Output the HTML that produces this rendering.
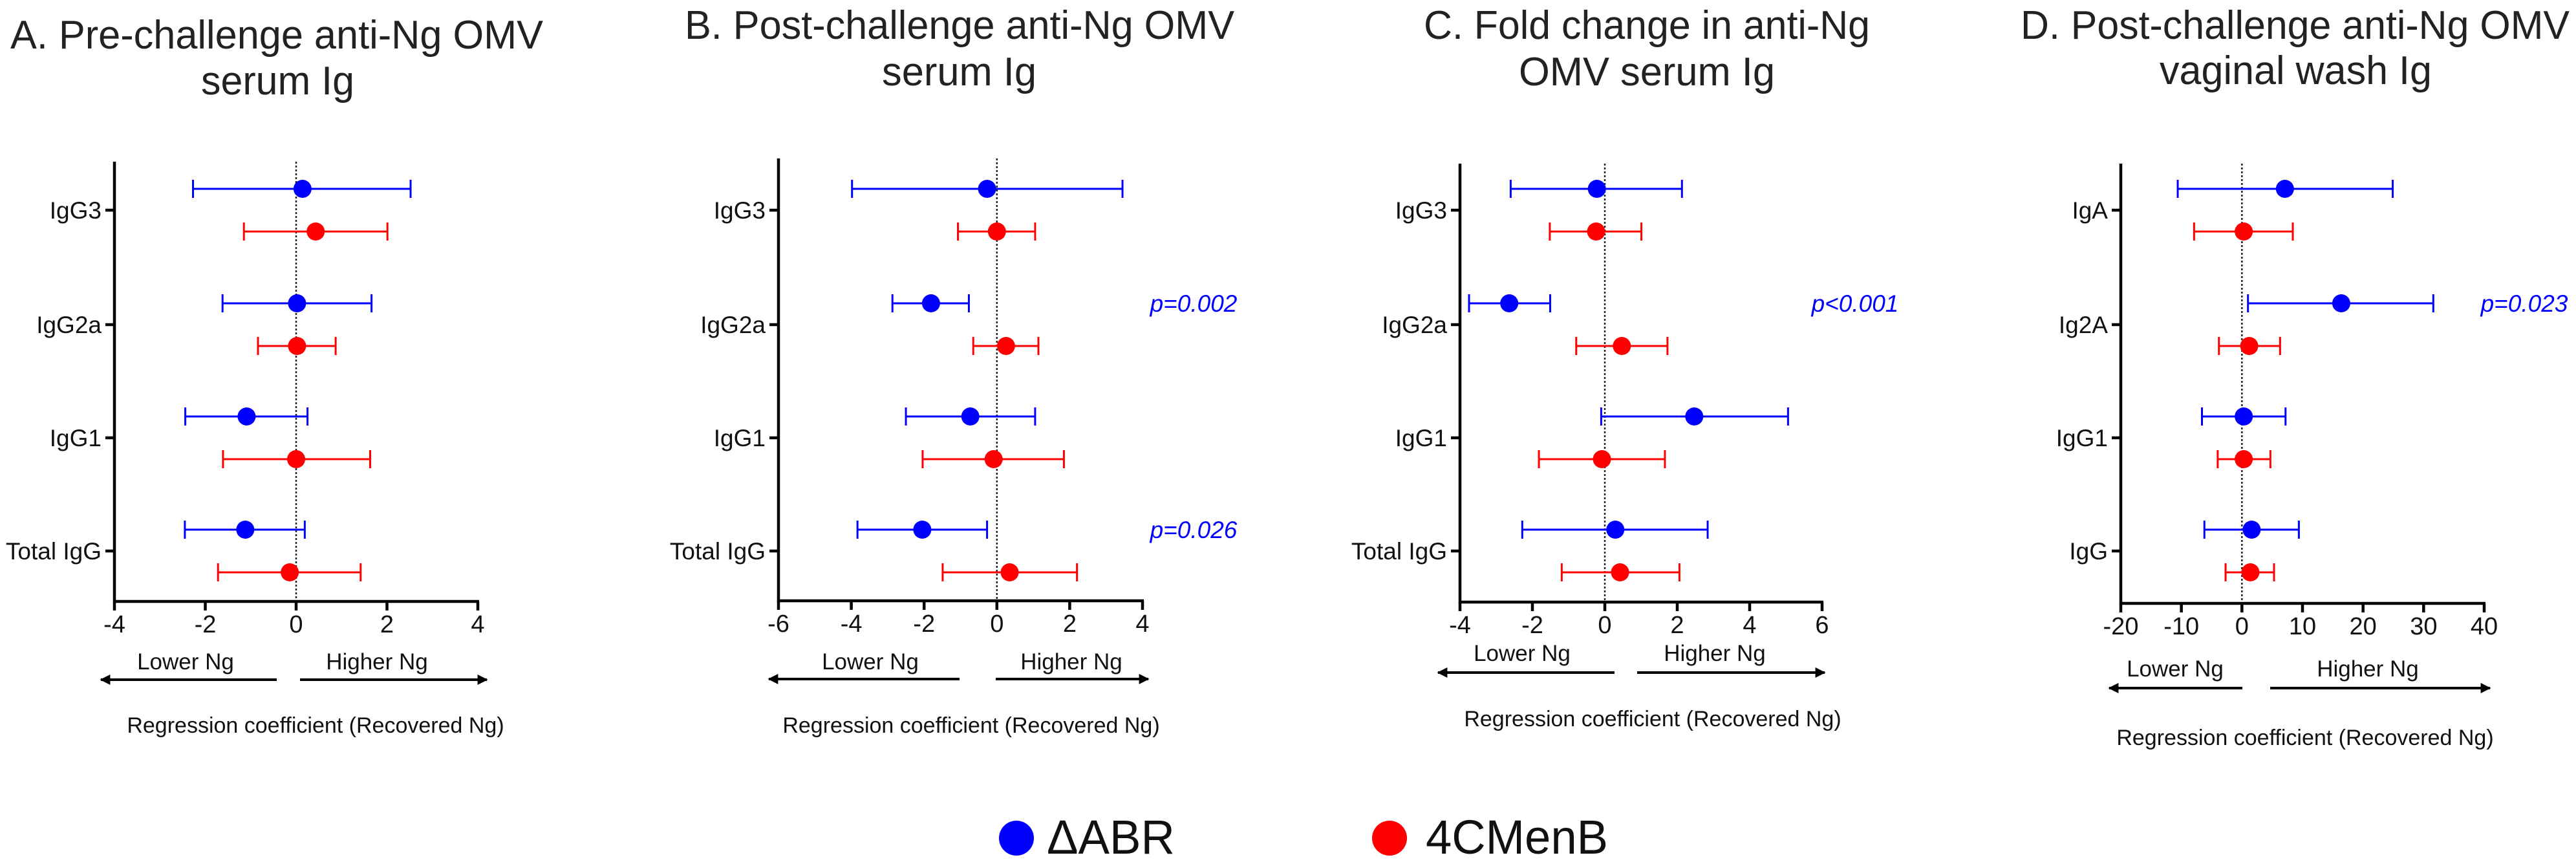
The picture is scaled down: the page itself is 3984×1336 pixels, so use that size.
<!DOCTYPE html>
<html><head><meta charset="utf-8"><style>
html,body{margin:0;padding:0;background:#fff}
svg{display:block}
text{font-family:"Liberation Sans",Arial,sans-serif}
</style></head><body>
<svg id="fig" width="3984" height="1336" viewBox="0 0 3984 1336" xmlns="http://www.w3.org/2000/svg">
<defs>
<marker id="ah" viewBox="0 0 10 10" refX="9" refY="5" markerWidth="4" markerHeight="4" orient="auto-start-reverse"><path d="M0,0 L10,5 L0,10 z" fill="#000"/></marker>
</defs>
<g>
<ellipse cx="1572" cy="1296" rx="27" ry="27" fill="#0000ff"/>
<text x="1619" y="1320" font-size="74" textLength="198" lengthAdjust="spacingAndGlyphs" fill="#111">ΔABR</text>
<ellipse cx="2149" cy="1296" rx="27" ry="27" fill="#ff0000"/>
<text x="2205" y="1320" font-size="74" textLength="282" lengthAdjust="spacingAndGlyphs" fill="#111">4CMenB</text>
</g>
</svg>
<script>
// ---- Panel A data ----
const catsA = ["IgG3","IgG2a","IgG1","Total IgG"];
const ticksA = [-4,-2,0,2,4];
const blueA = [0.14,0.02,-1.09,-1.12];
const blueLoA = [-2.27,-1.62,-2.44,-2.45];
const blueHiA = [2.52,1.66,0.25,0.19];
const redA = [0.43,0.02,0,-0.14];
const redLoA = [-1.15,-0.84,-1.61,-1.72];
const redHiA = [2.01,0.87,1.63,1.42];
// ---- Panel B data ----
const catsB = ["IgG3","IgG2a","IgG1","Total IgG"];
const ticksB = [-6,-4,-2,0,2,4];
const blueB = [-0.27,-1.81,-0.73,-2.05];
const blueLoB = [-3.98,-2.87,-2.5,-3.83];
const blueHiB = [3.45,-0.77,1.05,-0.27];
const redB = [0,0.25,-0.09,0.35];
const redLoB = [-1.07,-0.65,-2.04,-1.49];
const redHiB = [1.05,1.14,1.84,2.2];
const pB = ["","p=0.002","","p=0.026"];
// ---- Panel C data ----
const catsC = ["IgG3","IgG2a","IgG1","Total IgG"];
const ticksC = [-4,-2,0,2,4,6];
const blueC = [-0.22,-2.64,2.47,0.29];
const blueLoC = [-2.6,-3.75,-0.1,-2.28];
const blueHiC = [2.13,-1.51,5.06,2.84];
const redC = [-0.24,0.47,-0.08,0.42];
const redLoC = [-1.52,-0.79,-1.82,-1.19];
const redHiC = [1.01,1.73,1.66,2.06];
const pC = ["","p<0.001","",""];
// ---- Panel D data ----
const catsD = ["IgA","Ig2A","IgG1","IgG"];
const ticksD = [-20,-10,0,10,20,30,40];
const blueD = [7.1,16.4,0.3,1.6];
const blueLoD = [-10.6,1.0,-6.6,-6.2];
const blueHiD = [24.9,31.6,7.2,9.4];
const redD = [0.3,1.2,0.3,1.4];
const redLoD = [-7.9,-3.8,-4.0,-2.7];
const redHiD = [8.4,6.3,4.7,5.3];
const pD = ["","p=0.023","",""];

const NS="http://www.w3.org/2000/svg";
const svg=document.getElementById('fig');
function mk(tag,attrs,parent){const e=document.createElementNS(NS,tag);for(const k in attrs)e.setAttribute(k,attrs[k]);(parent||svg).appendChild(e);return e;}

const panels=[
 {id:'a',cats:catsA,ticks:ticksA,b:blueA,bl:blueLoA,bh:blueHiA,r:redA,rl:redLoA,rh:redHiA,p:["","","",""],
  x0:177,x1:739,top:250,bot:930,t1:"A. Pre-challenge anti-Ng OMV",t2:"serum Ig",tx:[16,824,311,237],ty:[75,146],
  lowC:287,highC:583,ly:1035,ay:1051,al:[428,156],ar:[464,753],axC:488,axY:1133,pX:0},
 {id:'b',cats:catsB,ticks:ticksB,b:blueB,bl:blueLoB,bh:blueHiB,r:redB,rl:redLoB,rh:redHiB,p:pB,
  x0:1204,x1:1767,top:245,bot:929,t1:"B. Post-challenge anti-Ng OMV",t2:"serum Ig",tx:[1059,850,1364,239],ty:[60,132],
  lowC:1346,highC:1657,ly:1035,ay:1050,al:[1484,1189],ar:[1540,1776],axC:1502,axY:1133,pX:1846},
 {id:'c',cats:catsC,ticks:ticksC,b:blueC,bl:blueLoC,bh:blueHiC,r:redC,rl:redLoC,rh:redHiC,p:pC,
  x0:2258,x1:2818,top:253,bot:931,t1:"C. Fold change in anti-Ng",t2:"OMV serum Ig",tx:[2202,690,2349,396],ty:[60,132],
  lowC:2354,highC:2652,ly:1022,ay:1040,al:[2497,2224],ar:[2532,2822],axC:2556,axY:1123,pX:2869},
 {id:'d',cats:catsD,ticks:ticksD,b:blueD,bl:blueLoD,bh:blueHiD,r:redD,rl:redLoD,rh:redHiD,p:pD,
  x0:3280,x1:3842,top:253,bot:933,t1:"D. Post-challenge anti-Ng OMV",t2:"vaginal wash Ig",tx:[3125,849,3340,421],ty:[60,130],
  lowC:3364,highC:3662,ly:1046,ay:1064,al:[3468,3262],ar:[3511,3851],axC:3565,axY:1152,pX:3904}
];
const rowY=[325,502,677,852], off=33;

panels.forEach(P=>{
  const g=mk('g',{});
  
  
  const mn=P.ticks[0], mx=P.ticks[P.ticks.length-1];
  const sx=v=>P.x0+(v-mn)/(mx-mn)*(P.x1-P.x0);
  // title
  const t1=mk('text',{x:P.tx[0],y:P.ty[0],'font-size':62,fill:'#222',textLength:P.tx[1],lengthAdjust:'spacingAndGlyphs'},g);
  t1.textContent=P.t1;
  
  
  const t2=mk('text',{x:P.tx[2],y:P.ty[1],'font-size':62,fill:'#222',textLength:P.tx[3],lengthAdjust:'spacingAndGlyphs'},g);
  t2.textContent=P.t2;
  
  
  // zero line
  const z=mk('line',{x1:sx(0),x2:sx(0),y1:P.top,y2:P.bot,stroke:'#222','stroke-width':2.5,'stroke-dasharray':'3,3'},g);
  
  
  // axes
  const ya=mk('line',{x1:P.x0,x2:P.x0,y1:P.top,y2:P.bot+2,stroke:'#000','stroke-width':4.5},g);
  
  
  const xa=mk('line',{x1:P.x0-2,x2:P.x1+2,y1:P.bot,y2:P.bot,stroke:'#000','stroke-width':4.5},g);
  
  
  P.ticks.forEach(t=>{
    const x=sx(t);
    mk('line',{x1:x,x2:x,y1:P.bot,y2:P.bot+14,stroke:'#000','stroke-width':4.5},g);
    const tl=mk('text',{x:x,y:P.bot+48,'font-size':38,'text-anchor':'middle',fill:'#111'},g);
    tl.textContent=String(t);
    
    
  });
  P.cats.forEach((c,i)=>{
    const y=rowY[i];
    mk('line',{x1:P.x0-14,x2:P.x0,y1:y,y2:y,stroke:'#000','stroke-width':4.5},g);
    const cl=mk('text',{x:P.x0-20,y:y+13,'font-size':37,'text-anchor':'end',fill:'#111'},g);
    cl.textContent=c;
    
    
    [[P.b,P.bl,P.bh,-off,'#0000ff','blue'],[P.r,P.rl,P.rh,off,'#ff0000','red']].forEach(s=>{
      const yy=y+s[3], col=s[4];
      const lo=sx(s[1][i]), hi=sx(s[2][i]), pt=sx(s[0][i]);
      const eg=mk('g',{},g);
      
      
      mk('line',{x1:lo,x2:hi,y1:yy,y2:yy,stroke:col,'stroke-width':3},eg);
      mk('line',{x1:lo,x2:lo,y1:yy-14,y2:yy+14,stroke:col,'stroke-width':3},eg);
      mk('line',{x1:hi,x2:hi,y1:yy-14,y2:yy+14,stroke:col,'stroke-width':3},eg);
      const dot=mk('circle',{cx:pt,cy:yy,r:14,fill:col},eg);
      
      
    });
    if(P.p[i]){
      const pt=mk('text',{x:P.pX,y:y-33+13,'font-size':37,'font-style':'italic','text-anchor':'middle',fill:'#0000ff'},g);
      pt.textContent=P.p[i];
      
      
    }
  });
  // direction arrows
  const lw=mk('text',{x:P.lowC,y:P.ly,'font-size':35,'text-anchor':'middle',fill:'#111'},g);
  lw.textContent='Lower Ng';
  
  
  const hg=mk('text',{x:P.highC,y:P.ly,'font-size':35,'text-anchor':'middle',fill:'#111'},g);
  hg.textContent='Higher Ng';
  
  
  const a1=mk('line',{x1:P.al[0],x2:P.al[1],y1:P.ay,y2:P.ay,stroke:'#000','stroke-width':4,'marker-end':'url(#ah)'},g);
  
  
  const a2=mk('line',{x1:P.ar[0],x2:P.ar[1],y1:P.ay,y2:P.ay,stroke:'#000','stroke-width':4,'marker-end':'url(#ah)'},g);
  
  
  const at=mk('text',{x:P.axC,y:P.axY,'font-size':34,'text-anchor':'middle',fill:'#111'},g);
  at.textContent='Regression coefficient (Recovered Ng)';
  
  
});
</script>
</body></html>
